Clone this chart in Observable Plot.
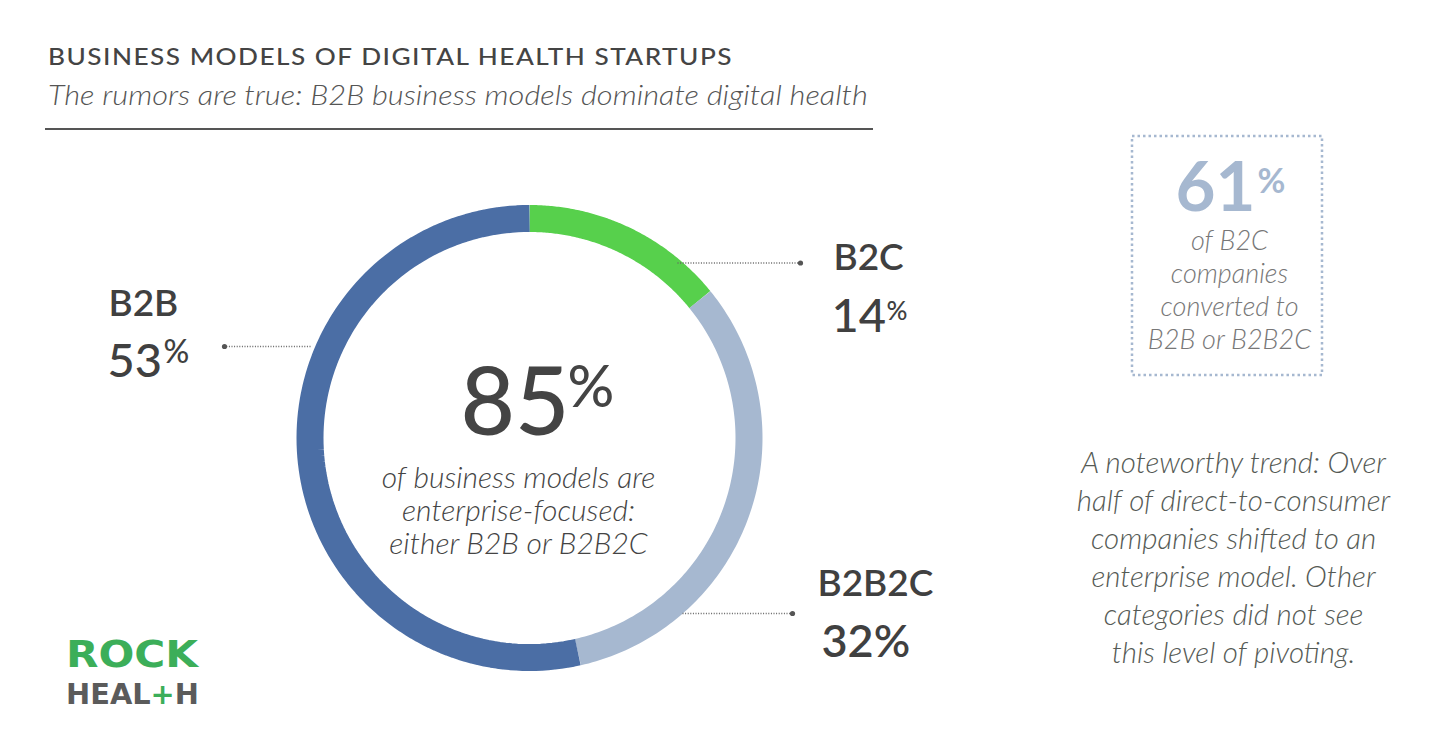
<!DOCTYPE html>
<html>
<head>
<meta charset="utf-8">
<script src="https://cdn.jsdelivr.net/npm/d3@7"></script>
<script src="https://cdn.jsdelivr.net/npm/@observablehq/plot@0.6"></script>
<style>
  html, body { margin: 0; padding: 0; background: #fff; }
  body { width: 1446px; height: 752px; overflow: hidden; position: relative; font-family: Lato, "Open Sans", sans-serif; }
  #head { position: absolute; left: 0; top: 0; }
  #chart { position: absolute; left: 0; top: 130px; }
  #logo { position: absolute; left: 0; top: 620px; }
</style>
</head>
<body>
<svg id="head" width="900" height="132" font-family="Lato, 'Open Sans', sans-serif">
  <text x="48" y="65" font-size="23" font-weight="500" letter-spacing="1.3" fill="#444" textLength="685" lengthAdjust="spacingAndGlyphs">BUSINESS MODELS OF DIGITAL HEALTH STARTUPS</text>
  <text x="48" y="105" font-size="27" font-weight="300" font-style="italic" fill="#555" textLength="820" lengthAdjust="spacingAndGlyphs">The rumors are true: B2B business models dominate digital health</text>
  <line x1="45" x2="873" y1="129" y2="129" stroke="#555" stroke-width="2"/>
</svg>
<div id="chart"></div>
<svg id="logo" width="240" height="100" font-family="'DejaVu Sans Condensed', 'DejaVu Sans', sans-serif" font-weight="bold">
  <text x="66" y="47" font-size="38" fill="#3cae59" textLength="132" lengthAdjust="spacingAndGlyphs">ROCK</text>
  <text x="66" y="84" font-size="29" fill="#5b5b5b" textLength="133" lengthAdjust="spacingAndGlyphs">HEAL<tspan fill="#3cae59">+</tspan>H</text>
</svg>
<script>
// ---- data ----
const categories = ["B2C", "B2B2C", "B2B"];
const shares = [14, 32, 53];           // percent of business models
const colors = ["#57d04c", "#a6b8d0", "#4b6ea5"];
const enterpriseShare = 85;            // B2B + B2B2C (as reported)
const convertedShare = 61;             // B2C companies converted
const centerLines = ["of business models are", "enterprise-focused:", "either B2B or B2B2C"];
const boxLines = ["of B2C", "companies", "converted to", "B2B or B2B2C"];
const noteLines = ["A noteworthy trend: Over", "half of direct-to-consumer", "companies shifted to an", "enterprise model. Other", "categories did not see", "this level of pivoting."];

// ---- layout (page pixel coordinates) ----
const W = 1446, TOP = 130, H = 752 - TOP;
const cx = 529, cy = 437.5, rMid = 219.5, ring = 27;

const table = categories.map((c, i) => ({category: c, value: shares[i]}));
const arcs = d3.pie().sort(null).value(d => d.value)(table);
const arcPts = [];
for (const a of arcs) {
  const n = 120;
  for (let k = 0; k <= n; k++) {
    const t = a.startAngle + (a.endAngle - a.startAngle) * k / n;
    arcPts.push({category: a.data.category, x: cx + rMid * Math.sin(t), y: cy - rMid * Math.cos(t)});
  }
}

// label layout per category
const labelPos = {
  "B2C":   {nx: 833, ny: 269, px: 831, py: 331, pctx: 886, pcty: 319, sup: 26, lx1: 677, lx2: 800, ly: 262.5},
  "B2B2C": {nx: 817, ny: 595, px: 821, py: 656, pctx: null, lx1: 682, lx2: 792, ly: 613},
  "B2B":   {nx: 108, ny: 315, px: 107, py: 376, pctx: 163, pcty: 362, sup: 32, lx1: 310, lx2: 224, ly: 346}
};
const labels = table.map(d => ({...d, ...labelPos[d.category]}));

const font = "Lato, 'Open Sans', sans-serif";
const plot = Plot.plot({
  width: W, height: H,
  margin: 0,
  x: {domain: [0, W], range: [0, W], axis: null},
  y: {domain: [TOP, 752], range: [0, H], axis: null},
  color: {domain: categories, range: colors},
  style: {fontFamily: font, background: "transparent"},
  marks: [
    // donut ring
    Plot.line(arcPts, {x: "x", y: "y", z: "category", stroke: "category", strokeWidth: ring, strokeLinecap: "butt", curve: "linear"}),
    // leader lines
    Plot.link(labels, {x1: "lx1", x2: "lx2", y1: "ly", y2: "ly", stroke: "#666", strokeWidth: 1.3, strokeDasharray: "1,1.6"}),
    Plot.dot(labels, {x: "lx2", y: "ly", r: 2.6, fill: "#555", stroke: "none"}),
    // category names
    Plot.text(labels, {x: "nx", y: "ny", text: "category", textAnchor: "start", lineAnchor: "bottom", fontSize: 37, fontWeight: 600, fill: "#404040"}),
    // values with superscript %
    Plot.text(labels.filter(d => d.pctx != null), {x: "px", y: "py", text: d => String(d.value), textAnchor: "start", lineAnchor: "bottom", fontSize: 47, fontWeight: 500, fill: "#404040"}),
    Plot.text(labels.filter(d => d.pctx != null), {x: "pctx", y: "pcty", text: d => "%", textAnchor: "start", lineAnchor: "bottom", fontSize: d => d.sup, fontWeight: 500, fill: "#404040"}),
    Plot.text(labels.filter(d => d.pctx == null), {x: "px", y: "py", text: d => d.value + "%", textAnchor: "start", lineAnchor: "bottom", fontSize: 45, fontWeight: 600, fill: "#404040"}),
    // center statement
    Plot.text([enterpriseShare], {x: 460, y: 434, text: d => String(d), textAnchor: "start", lineAnchor: "bottom", fontSize: 94, fontWeight: 500, fill: "#444"}),
    Plot.text(["%"], {x: 567, y: 406, text: d => d, textAnchor: "start", lineAnchor: "bottom", fontSize: 58, fontWeight: 500, fill: "#444"}),
    Plot.text(centerLines, {x: 518, y: (d, i) => 487 + i * 33, text: d => d, textAnchor: "middle", lineAnchor: "bottom", fontSize: 30, fontWeight: 300, fontStyle: "italic", fill: "#444", letterSpacing: 0.9}),
    // callout box
    Plot.rect([0], {x1: 1132, x2: 1322, y1: 136, y2: 375, fill: "none", stroke: "#a6b8d0", strokeWidth: 2.5, strokeDasharray: "2.5,3"}),
    Plot.text([convertedShare], {x: 1175, y: 210, text: d => String(d), textAnchor: "start", lineAnchor: "bottom", fontSize: 69, fontWeight: 700, fill: "#a6b8d0"}),
    Plot.text(["%"], {x: 1257, y: 192, text: d => d, textAnchor: "start", lineAnchor: "bottom", fontSize: 34, fontWeight: 700, fill: "#a6b8d0"}),
    Plot.text(boxLines, {x: 1229, y: (d, i) => 249 + i * 33, text: d => d, textAnchor: "middle", lineAnchor: "bottom", fontSize: 27, fontWeight: 300, fontStyle: "italic", fill: "#777", letterSpacing: 0.3}),
    // note
    Plot.text(noteLines, {x: 1233, y: (d, i) => 472 + i * 38, text: d => d, textAnchor: "middle", lineAnchor: "bottom", fontSize: 29.5, fontWeight: 300, fontStyle: "italic", fill: "#555a55", letterSpacing: 0.8})
  ]
});
document.getElementById("chart").appendChild(plot);
</script>
</body>
</html>
